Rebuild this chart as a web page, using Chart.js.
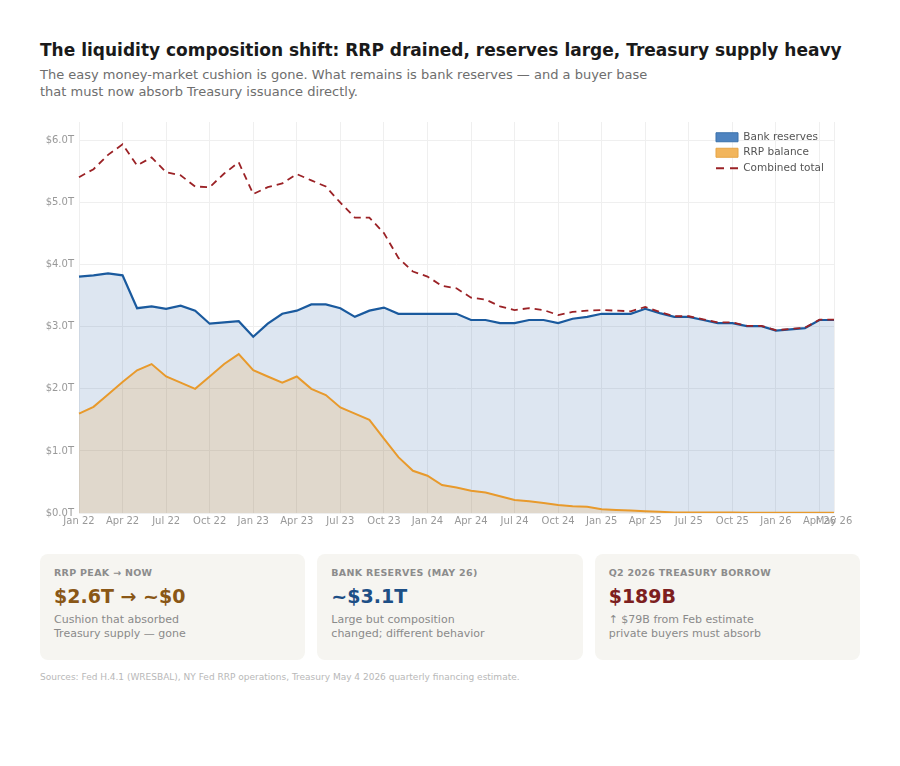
<!DOCTYPE html>
<html lang="en">
<head>
  <meta charset="UTF-8" />
  <title>Liquidity composition shift</title>
  <style>
    body { margin: 0; background: #fff; font-family: 'DejaVu Sans', sans-serif; }
    .page { position: relative; width: 900px; height: 766px; }
    h1 { position: absolute; left: 40px; top: 40px; margin: 0; font-size: 17px; line-height: 20px; color: #1a1a1a; white-space: nowrap; }
    .sub { position: absolute; left: 40px; top: 66px; margin: 0; font-size: 13px; line-height: 17px; color: #6e6e6e; }
    .chart-box { position: absolute; left: 40px; top: 110px; width: 820px; height: 422px; }
    .cards { position: absolute; left: 40px; top: 554px; width: 820px; display: flex; gap: 12px; }
    .card { flex: 1; height: 106px; background: #f6f5f1; border-radius: 8px; padding: 13px 14px 0; box-sizing: border-box; }
    .card .lbl { font-size: 9.5px; font-weight: bold; color: #8c8c8c; letter-spacing: 0.3px; line-height: 12px; }
    .card .val { font-size: 19px; font-weight: bold; line-height: 24px; margin-top: 5px; }
    .card .desc { font-size: 11px; color: #8a8a8a; line-height: 14px; margin-top: 5px; }
    .src { position: absolute; left: 40px; top: 672px; font-size: 9px; color: #b8b8b8; }
  </style>
</head>
<body>
<div class="page">
  <h1>The liquidity composition shift: RRP drained, reserves large, Treasury supply heavy</h1>
  <p class="sub">The easy money-market cushion is gone. What remains is bank reserves — and a buyer base<br>that must now absorb Treasury issuance directly.</p>

  <div class="chart-box"><canvas id="liqChart"></canvas></div>

  <div class="cards">
    <div class="card">
      <div class="lbl">RRP PEAK → NOW</div>
      <div class="val" style="color:#8a5716;">$2.6T → ~$0</div>
      <div class="desc">Cushion that absorbed<br>Treasury supply — gone</div>
    </div>
    <div class="card">
      <div class="lbl">BANK RESERVES (MAY 26)</div>
      <div class="val" style="color:#1d4f86;">~$3.1T</div>
      <div class="desc">Large but composition<br>changed; different behavior</div>
    </div>
    <div class="card">
      <div class="lbl">Q2 2026 TREASURY BORROW</div>
      <div class="val" style="color:#7d1f1f;">$189B</div>
      <div class="desc">↑ $79B from Feb estimate<br>private buyers must absorb</div>
    </div>
  </div>

  <div class="src">Sources: Fed H.4.1 (WRESBAL), NY Fed RRP operations, Treasury May 4 2026 quarterly financing estimate.</div>
</div>

<script src="https://cdn.jsdelivr.net/npm/chart.js"></script>
<script>
  // monthly, Jan 2022 .. May 2026, values in $T
  const months = [
    'Jan 22', 'Feb 22', 'Mar 22', 'Apr 22', 'May 22', 'Jun 22', 'Jul 22', 'Aug 22', 'Sep 22', 'Oct 22', 'Nov 22', 'Dec 22',
    'Jan 23', 'Feb 23', 'Mar 23', 'Apr 23', 'May 23', 'Jun 23', 'Jul 23', 'Aug 23', 'Sep 23', 'Oct 23', 'Nov 23', 'Dec 23',
    'Jan 24', 'Feb 24', 'Mar 24', 'Apr 24', 'May 24', 'Jun 24', 'Jul 24', 'Aug 24', 'Sep 24', 'Oct 24', 'Nov 24', 'Dec 24',
    'Jan 25', 'Feb 25', 'Mar 25', 'Apr 25', 'May 25', 'Jun 25', 'Jul 25', 'Aug 25', 'Sep 25', 'Oct 25', 'Nov 25', 'Dec 25',
    'Jan 26', 'Feb 26', 'Mar 26', 'Apr 26', 'May 26'
  ];

  const reserves = [
    3.81, 3.83, 3.86, 3.83, 3.30, 3.33, 3.29, 3.34, 3.26, 3.05, 3.07, 3.09,
    2.84, 3.05, 3.21, 3.26, 3.36, 3.36, 3.30, 3.16, 3.26, 3.31, 3.21, 3.21,
    3.21, 3.21, 3.21, 3.11, 3.11, 3.06, 3.06, 3.11, 3.11, 3.06, 3.13, 3.16,
    3.21, 3.21, 3.21, 3.29, 3.22, 3.16, 3.16, 3.11, 3.06, 3.06, 3.01, 3.01,
    2.94, 2.96, 2.98, 3.11, 3.11
  ];

  const rrp = [
    1.60, 1.71, 1.91, 2.11, 2.30, 2.40, 2.20, 2.10, 2.00, 2.20, 2.40, 2.56,
    2.30, 2.20, 2.10, 2.20, 2.00, 1.90, 1.70, 1.60, 1.50, 1.20, 0.90, 0.68,
    0.60, 0.45, 0.41, 0.36, 0.33, 0.27, 0.21, 0.19, 0.16, 0.13, 0.11, 0.10,
    0.06, 0.05, 0.04, 0.03, 0.02, 0.01, 0.01, 0.01, 0.01, 0.01, 0.005, 0.005,
    0.005, 0.005, 0.005, 0.005, 0.005
  ];

  const combined = [
    5.41, 5.54, 5.77, 5.94, 5.60, 5.73, 5.49, 5.44, 5.26, 5.25, 5.47, 5.65,
    5.14, 5.25, 5.31, 5.46, 5.36, 5.26, 5.00, 4.76, 4.76, 4.51, 4.11, 3.89,
    3.81, 3.66, 3.62, 3.47, 3.44, 3.33, 3.27, 3.30, 3.27, 3.19, 3.24, 3.26,
    3.27, 3.26, 3.25, 3.32, 3.24, 3.17, 3.17, 3.12, 3.07, 3.07, 3.015, 3.015,
    2.945, 2.965, 2.985, 3.115, 3.115
  ];

  Chart.defaults.font.family = "'DejaVu Sans', sans-serif";

  // legend lives inside the plot, pushed to the top-right corner
  const legendCorner = {
    id: 'legendCorner',
    afterLayout(chart) {
      const lg = chart.legend;
      const area = chart.chartArea;
      if (!lg || !area) return;
      lg.left = area.right - 123;
      lg.right = lg.left + lg.width;
      lg.top = area.top + 5;
      lg.bottom = area.bottom;
    }
  };

  new Chart(document.getElementById('liqChart'), {
    type: 'line',
    data: {
      labels: months,
      datasets: [
        {
          label: 'Bank reserves',
          data: reserves,
          order: 3,
          borderColor: '#1a5a9e',
          backgroundColor: 'rgba(26, 90, 158, 0.15)',
          borderWidth: 2.2,
          fill: 'origin',
          pointRadius: 0,
          tension: 0
        },
        {
          label: 'RRP balance',
          data: rrp,
          order: 2,
          borderColor: '#e89a2c',
          backgroundColor: 'rgba(232, 154, 44, 0.19)',
          borderWidth: 2,
          fill: 'origin',
          pointRadius: 0,
          tension: 0
        },
        {
          label: 'Combined total',
          data: combined,
          order: 1,
          borderColor: '#9b2226',
          borderWidth: 1.8,
          borderDash: [7, 5],
          fill: false,
          pointRadius: 0,
          tension: 0
        }
      ]
    },
    options: {
      responsive: true,
      maintainAspectRatio: false,
      animation: false,
      layout: { padding: { top: 12, right: 26, left: 0, bottom: 0 } },
      plugins: {
        tooltip: { enabled: false },
        legend: {
          position: 'chartArea',
          align: 'start',
          labels: {
            usePointStyle: true,
            pointStyleWidth: 22,
            boxHeight: 9,
            padding: 5,
            color: '#555',
            font: { size: 10.5 },
            generateLabels: () => [
              { text: 'Bank reserves', fillStyle: '#4f84c0', strokeStyle: '#3b70aa', lineWidth: 1, pointStyle: 'rect', datasetIndex: 0, fontColor: '#555' },
              { text: 'RRP balance', fillStyle: '#f2b55c', strokeStyle: '#e6a444', lineWidth: 1, pointStyle: 'rect', datasetIndex: 1, fontColor: '#555' },
              { text: 'Combined total', fillStyle: 'rgba(0,0,0,0)', strokeStyle: '#9b2226', lineWidth: 2, lineDash: [8, 6], pointStyle: 'line', datasetIndex: 2, fontColor: '#555' }
            ]
          }
        }
      },
      scales: {
        x: {
          grid: { color: '#efefef', drawTicks: false },
          border: { display: false },
          ticks: {
            autoSkip: false,
            maxRotation: 0,
            padding: 2,
            color: '#999',
            font: { size: 10 },
            callback: (value, index) => (index % 3 === 0 || index === months.length - 1) ? months[index] : null
          },
          afterFit: scale => { scale.height = 19; }
        },
        y: {
          min: 0,
          max: 6.3,
          grid: { color: '#efefef', drawTicks: false },
          border: { display: false },
          ticks: {
            stepSize: 1,
            includeBounds: false,
            padding: 5,
            color: '#999',
            font: { size: 10 },
            callback: value => Number.isInteger(value) ? '$' + value.toFixed(1) + 'T' : null
          },
          afterFit: scale => { scale.width = 39; }
        }
      }
    },
    plugins: [legendCorner]
  });
</script>
</body>
</html>
